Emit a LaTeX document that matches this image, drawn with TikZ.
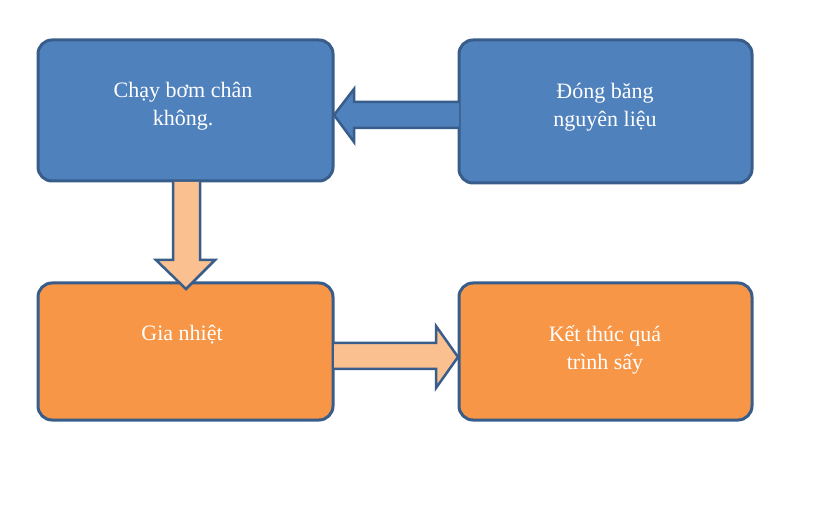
\documentclass[tikz,border=0pt]{standalone}
\usepackage{fontspec}
\setmainfont{Liberation Serif}
\definecolor{bfill}{HTML}{4F81BD}
\definecolor{bdraw}{HTML}{385D8A}
\definecolor{ofill}{HTML}{F79646}
\definecolor{afill}{HTML}{FAC090}
\begin{document}
\begin{tikzpicture}[x=1pt,y=-1pt,
  box/.style={draw=bdraw,line width=3pt,rounded corners=14pt},
  arr/.style={draw=bdraw,line width=2.5pt,line join=miter},
  lbl/.style={text=white,font=\fontsize{22}{28}\selectfont,align=center}]
\useasboundingbox (0,0) rectangle (831,513);
\draw[box,fill=bfill] (38,40) rectangle (333,181) coordinate (b1);
\draw[box,fill=bfill] (459,40) rectangle (752,183) coordinate (b2);
\draw[box,fill=ofill] (38,283) rectangle (333,420) coordinate (b3);
\draw[box,fill=ofill] (459,283) rectangle (752,420) coordinate (b4);
\node[lbl] (t1) at (183,106) {Chạy bơm chân\\không.};
\node[lbl] (t2) at (605,107) {Đóng băng\\nguyên liệu};
\node[lbl] (t3) at (182,335) {Gia nhiệt};
\node[lbl] (t4) at (605,350) {Kết thúc quá\\trình sấy};
% left arrow
\draw[arr,fill=bfill] (459,102) -- (354,102) -- (354,89) -- (334,115) -- (354,142) -- (354,128) -- (459,128);
% down arrow
\draw[arr,fill=afill] (173,182) -- (173,260) -- (156,260) -- (186,289) -- (215,260) -- (200,260) -- (200,182);
% right arrow
\draw[arr,fill=afill] (334,343) -- (436,343) -- (436,326) -- (458,357) -- (436,388) -- (436,369) -- (334,369);
\end{tikzpicture}
\end{document}
